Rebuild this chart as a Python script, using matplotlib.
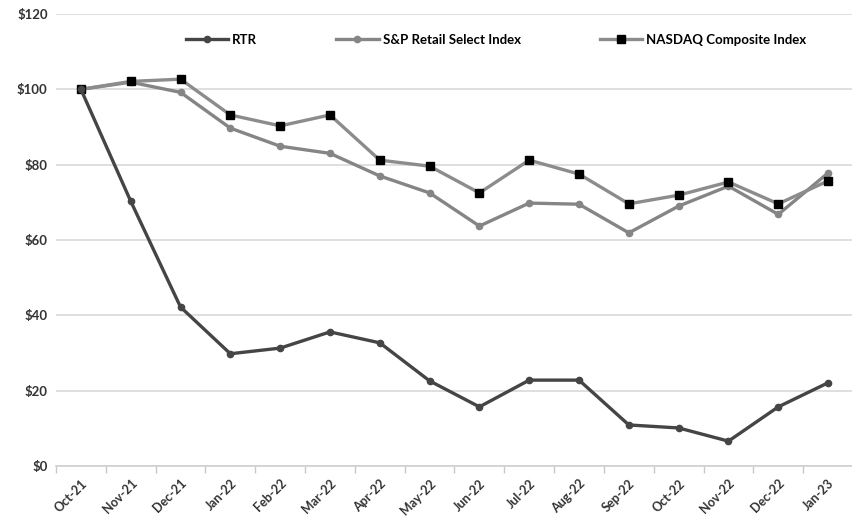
import matplotlib.pyplot as plt
import numpy as np

months = ["Oct-21", "Nov-21", "Dec-21", "Jan-22", "Feb-22", "Mar-22", "Apr-22", "May-22",
          "Jun-22", "Jul-22", "Aug-22", "Sep-22", "Oct-22", "Nov-22", "Dec-22", "Jan-23"]
rtr = [100, 70.3, 42.2, 29.8, 31.3, 35.6, 32.7, 22.6, 15.7, 22.8, 22.8, 10.9, 10.1, 6.6, 15.7, 22.1]
sp_retail = [100, 101.9, 99.2, 89.7, 84.9, 83.0, 77.0, 72.5, 63.7, 69.8, 69.5, 61.9, 69.0, 74.3, 66.8, 77.8]
nasdaq = [100, 102.1, 102.7, 93.2, 90.3, 93.2, 81.2, 79.6, 72.5, 81.2, 77.5, 69.6, 71.9, 75.4, 69.6, 75.7]

plt.rcParams['font.family'] = ['Lato', 'DejaVu Sans']

fig = plt.figure(figsize=(8.53, 5.28), dpi=100)
ax = fig.add_axes([56 / 853, 1 - 466 / 528, 1 - 56 / 853, (466 - 14) / 528])

x = np.arange(len(months))
ax.plot(x, rtr, color='#454545', lw=2.4, marker='o', markersize=4.5, label='RTR', zorder=4)
ax.plot(x, sp_retail, color='#858585', lw=2.4, marker='o', markersize=4.5,
        label='S&P Retail Select Index', zorder=3)
ax.plot(x, nasdaq, color='#8c8c8c', lw=2.4, marker='s', markersize=6.3, markerfacecolor='black',
        markeredgecolor='black', label='NASDAQ Composite Index', zorder=3)

ax.set_ylim(0, 120)
ax.set_yticks(np.arange(0, 121, 20))
ax.set_yticklabels([f"${v}" for v in range(0, 121, 20)], fontsize=9.5, fontweight='bold', color='#333333')
ax.set_xlim(-0.5, 15.45)
ax.set_xticks(x)
ax.set_xticklabels(months, rotation=45, ha='right', rotation_mode='anchor',
                   fontsize=9, fontweight='bold', color='#333333')
ax.set_xticks(np.arange(-0.5, 16, 1), minor=True)
ax.tick_params(axis='x', which='major', length=0, pad=8)
ax.tick_params(axis='x', which='minor', length=5, color='#c8c8c8', width=1)
ax.tick_params(axis='y', length=0, pad=6)

ax.grid(axis='y', color='#d9d9d9', lw=1.2)
ax.set_axisbelow(True)
for side in ['top', 'right', 'left']:
    ax.spines[side].set_visible(False)
ax.spines['bottom'].set_color('#d0d0d0')
ax.spines['bottom'].set_linewidth(1.2)

fig.legend(loc='center', bbox_to_anchor=(496 / 853, 1 - 40 / 528), ncol=3, frameon=False,
           prop={'weight': 'bold', 'size': 9.5}, handlelength=3.2,
           columnspacing=6, handletextpad=0.3)

fig.savefig('out.png', dpi=100, facecolor='white')
